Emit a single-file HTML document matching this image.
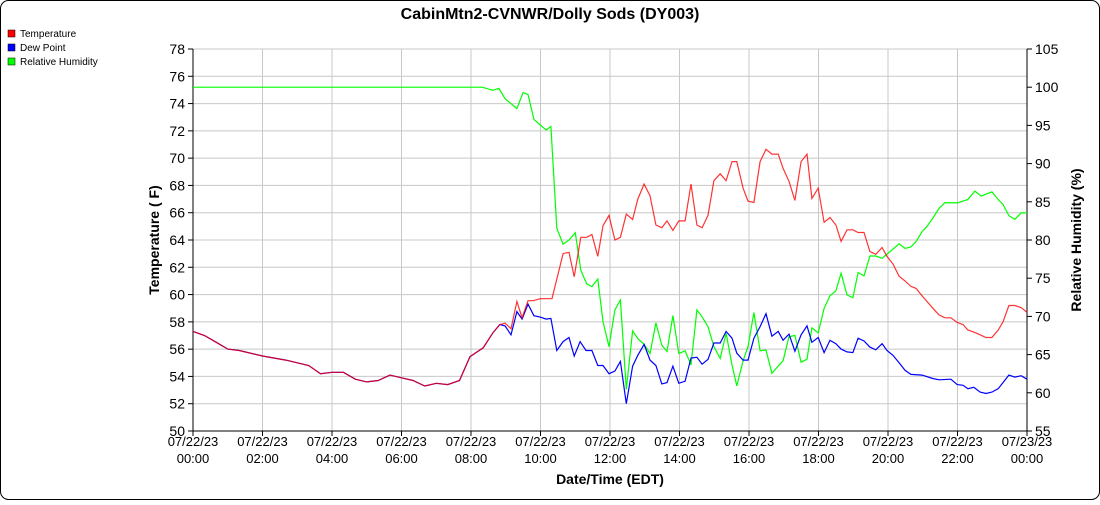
<!DOCTYPE html>
<html><head><meta charset="utf-8"><style>
body{margin:0;background:#fff;font-family:"Liberation Sans",Arial,sans-serif}
svg text{font-family:"Liberation Sans",Arial,sans-serif}
</style></head><body>
<svg id="chart" width="1100" height="500">
<rect x="0.5" y="0.5" width="1099" height="499" rx="8" fill="#fff" stroke="#000"/>
<text x="550" y="19" text-anchor="middle" font-size="16" font-weight="bold">CabinMtn2-CVNWR/Dolly Sods (DY003)</text>
<g>
<g><rect x="8" y="30" width="7" height="7" fill="#f00" stroke="#000" stroke-width="0.5"/><text x="20" y="37" font-size="10">Temperature</text></g>
<g><rect x="8" y="44" width="7" height="7" fill="#00f" stroke="#000" stroke-width="0.5"/><text x="20" y="51" font-size="10">Dew Point</text></g>
<g><rect x="8" y="58" width="7" height="7" fill="#0f0" stroke="#000" stroke-width="0.5"/><text x="20" y="65" font-size="10">Relative Humidity</text></g>
</g>
<g id="grid"></g><g id="axes"></g><g id="series"></g>
<text transform="translate(159,240) rotate(-90)" text-anchor="middle" font-size="14" font-weight="bold">Temperature ( F)</text>
<text transform="translate(1081,240) rotate(-90)" text-anchor="middle" font-size="14" font-weight="bold">Relative Humidity (%)</text>
<text x="610" y="484" text-anchor="middle" font-size="14" font-weight="bold">Date/Time (EDT)</text>
</svg>
<script>
const tempTimes=[0,0.33,0.67,1,1.33,2,2.67,3,3.33,3.67,4,4.33,4.67,5,5.33,5.67,6,6.33,6.67,7,7.33,7.67,7.97,8.35,8.63,8.83,8.98,9.15,9.32,9.47,9.64,9.79,9.99,10.33,10.65,10.82,10.97,11.16,11.33,11.48,11.65,11.8,11.97,12.14,12.3,12.47,12.65,12.8,12.98,13.15,13.32,13.49,13.64,13.81,13.98,14.16,14.33,14.5,14.65,14.82,14.99,15.17,15.34,15.51,15.65,15.83,15.97,16.14,16.32,16.49,16.66,16.84,16.98,17.15,17.32,17.5,17.67,17.81,17.99,18.16,18.33,18.5,18.65,18.82,18.99,19.14,19.31,19.48,19.65,19.83,19.97,20.14,20.32,20.49,20.66,20.81,20.98,21.12,21.29,21.47,21.64,21.81,21.99,22.16,22.3,22.47,22.65,22.82,22.99,23.17,23.31,23.48,23.65,23.83,24];
const tempValues=[57.3,57,56.5,56,55.9,55.5,55.2,55,54.8,54.2,54.3,54.3,53.8,53.6,53.7,54.1,53.9,53.7,53.3,53.5,53.4,53.7,55.45,56.1,57.2,57.8,57.9,57.5,59.5,58.3,59.55,59.55,59.7,59.7,63,63.1,61.3,64.2,64.2,64.4,62.8,65.05,65.8,64,64.2,65.9,65.5,67,68.1,67.25,65.1,64.9,65.4,64.7,65.4,65.4,68.1,65.1,64.9,65.8,68.35,68.85,68.35,69.75,69.75,67.8,66.85,66.75,69.75,70.65,70.3,70.3,69.25,68.3,66.9,69.75,70.3,67.05,67.8,65.3,65.65,65.1,63.9,64.75,64.75,64.55,64.55,63.15,62.95,63.45,62.8,62.25,61.35,61,60.6,60.45,59.9,59.5,59,58.5,58.3,58.3,57.95,57.8,57.4,57.25,57.05,56.85,56.85,57.4,58,59.2,59.2,59.05,58.7];
const dewTimes=[0,0.33,0.67,1,1.33,2,2.67,3,3.33,3.67,4,4.33,4.67,5,5.33,5.67,6,6.33,6.67,7,7.33,7.67,7.97,8.35,8.63,8.83,8.98,9.15,9.32,9.47,9.64,9.81,9.99,10.16,10.3,10.47,10.65,10.82,10.97,11.14,11.31,11.48,11.65,11.8,11.97,12.14,12.3,12.47,12.65,12.8,12.98,13.15,13.32,13.49,13.64,13.81,13.98,14.16,14.33,14.5,14.65,14.82,14.99,15.17,15.34,15.51,15.65,15.83,15.97,16.14,16.32,16.49,16.66,16.84,16.98,17.15,17.32,17.5,17.67,17.81,17.99,18.16,18.33,18.5,18.65,18.82,18.99,19.14,19.31,19.48,19.65,19.83,19.97,20.14,20.32,20.49,20.66,20.98,21.29,21.47,21.81,21.99,22.16,22.3,22.47,22.65,22.82,22.99,23.17,23.31,23.48,23.65,23.83,24];
const dewValues=[57.3,57,56.5,56,55.9,55.5,55.2,55,54.8,54.2,54.3,54.3,53.8,53.6,53.7,54.1,53.9,53.7,53.3,53.5,53.4,53.7,55.45,56.1,57.2,57.8,57.7,57.05,58.75,58.2,59.3,58.45,58.35,58.2,58.25,55.9,56.55,56.85,55.5,56.55,55.9,55.9,54.8,54.8,54.2,54.4,55.1,52,54.75,55.55,56.35,55.2,54.8,53.45,53.55,54.75,53.5,53.65,55.35,55.4,54.9,55.25,56.45,56.45,57.3,56.8,55.7,55.2,55.2,56.8,57.65,58.6,56.95,57.3,56.65,57.1,55.85,57.05,57.7,56.5,56.85,55.75,56.65,56.4,56,55.8,55.75,56.8,56.6,56.15,55.95,56.4,55.9,55.55,55,54.45,54.15,54.1,53.85,53.75,53.8,53.4,53.35,53.1,53.2,52.85,52.75,52.85,53.1,53.55,54.1,53.95,54.05,53.8];
const rhTimes=[0,8.32,8.63,8.8,8.98,9.32,9.5,9.64,9.81,9.99,10.16,10.3,10.47,10.65,10.82,11,11.16,11.33,11.48,11.65,11.8,11.97,12.14,12.3,12.47,12.65,12.8,12.98,13.15,13.32,13.49,13.64,13.81,13.98,14.16,14.33,14.5,14.65,14.82,14.99,15.17,15.34,15.51,15.65,15.83,15.97,16.14,16.32,16.49,16.66,16.98,17.15,17.32,17.5,17.67,17.81,17.99,18.16,18.33,18.5,18.65,18.82,18.99,19.14,19.31,19.48,19.65,19.83,19.97,20.14,20.32,20.49,20.66,20.81,20.98,21.12,21.29,21.47,21.64,21.99,22.3,22.5,22.68,22.99,23.17,23.31,23.48,23.65,23.83,24];
const rhValues=[100,100,99.6,99.85,98.5,97.2,99.3,99.05,95.8,95.05,94.4,94.85,81.55,79.45,80,80.95,76.05,74.25,73.9,74.9,69.3,66.05,70.85,72.15,60.45,68.1,67.1,66.35,65.15,69.15,66.25,65.4,70.1,65.15,65.5,63.65,70.85,69.95,68.65,66.05,64.5,67.8,63.65,60.9,64.2,66.05,70.5,65.5,65.6,62.55,64.2,67.35,67.5,64,64.4,68.5,67.85,71.05,72.7,73.35,75.65,72.8,72.45,75.75,75.3,77.9,77.9,77.6,78.15,78.8,79.5,78.9,79.1,79.8,81.1,81.75,82.85,84.15,84.9,84.85,85.3,86.4,85.75,86.3,85.3,84.65,83.2,82.7,83.55,83.55];
const leftTicks=[50,52,54,56,58,60,62,64,66,68,70,72,74,76,78];
const rightTicks=[55,60,65,70,75,80,85,90,95,100,105];
const xTickHours=[0,2,4,6,8,10,12,14,16,18,20,22,24];
const xTickLabels=["07/22/23|00:00","07/22/23|02:00","07/22/23|04:00","07/22/23|06:00","07/22/23|08:00","07/22/23|10:00","07/22/23|12:00","07/22/23|14:00","07/22/23|16:00","07/22/23|18:00","07/22/23|20:00","07/22/23|22:00","07/23/23|00:00"];

const X0=193,X1=1027,Y0=431,Y1=49;
const xs=h=>X0+(h/24)*(X1-X0);
const yT=t=>Y0-(t-50)/28*(Y0-Y1);
const yR=r=>Y0-(r-55)/50*(Y0-Y1);
const NS="http://www.w3.org/2000/svg";
function mk(tag,attrs,parent){const e=document.createElementNS(NS,tag);for(const k in attrs)e.setAttribute(k,attrs[k]);parent.appendChild(e);return e;}
const grid=document.getElementById('grid'),axes=document.getElementById('axes'),series=document.getElementById('series');
leftTicks.forEach(t=>{
  const y=yT(t);
  const l=mk('line',{x1:X0,x2:X1,y1:y,y2:y,stroke:'#c8c8c8','stroke-width':1},grid);
  
  
  mk('line',{x1:X0-5,x2:X0,y1:y,y2:y,stroke:'#000'},axes);
  const tx=mk('text',{x:X0-8,y:y+5,'text-anchor':'end','font-size':14},axes);
  tx.textContent=t;
  
  
});
rightTicks.forEach(r=>{
  const y=yR(r);
  mk('line',{x1:X1,x2:X1+5,y1:y,y2:y,stroke:'#000'},axes);
  const tx=mk('text',{x:X1+8,y:y+5,'font-size':14},axes);
  tx.textContent=r;
  
  
});
xTickHours.forEach((h,i)=>{
  const x=xs(h);
  const l=mk('line',{x1:x,x2:x,y1:Y1,y2:Y0,stroke:'#c8c8c8'},grid);
  
  
  mk('line',{x1:x,x2:x,y1:Y0,y2:Y0+5,stroke:'#000'},axes);
  const parts=xTickLabels[i].split('|');
  const tx=mk('text',{x:x,y:Y0+15,'text-anchor':'middle','font-size':13},axes);
  tx.textContent=parts[0];
  
  
  const tx2=mk('text',{x:x,y:Y0+32,'text-anchor':'middle','font-size':13},axes);
  tx2.textContent=parts[1];
  
  
});
mk('line',{x1:X0,x2:X0,y1:Y1,y2:Y0,stroke:'#000'},axes);
mk('line',{x1:X1,x2:X1,y1:Y1,y2:Y0,stroke:'#000'},axes);
mk('line',{x1:X0,x2:X1,y1:Y0,y2:Y0,stroke:'#000'},axes);
function line(ts,vs,yf,color,name,op){
  const p=mk('polyline',{points:ts.map((t,i)=>xs(t).toFixed(1)+','+yf(vs[i]).toFixed(1)).join(' '),fill:'none',stroke:color,'stroke-width':1.2,'stroke-opacity':op},series);
  
  
}
line(rhTimes,rhValues,yR,'#00ff00','relative-humidity-line',1);
line(dewTimes,dewValues,yT,'#0000ff','dew-point-line',1);
line(tempTimes,tempValues,yT,'#ff0000','temperature-line',0.8);
</script>
</body></html>
